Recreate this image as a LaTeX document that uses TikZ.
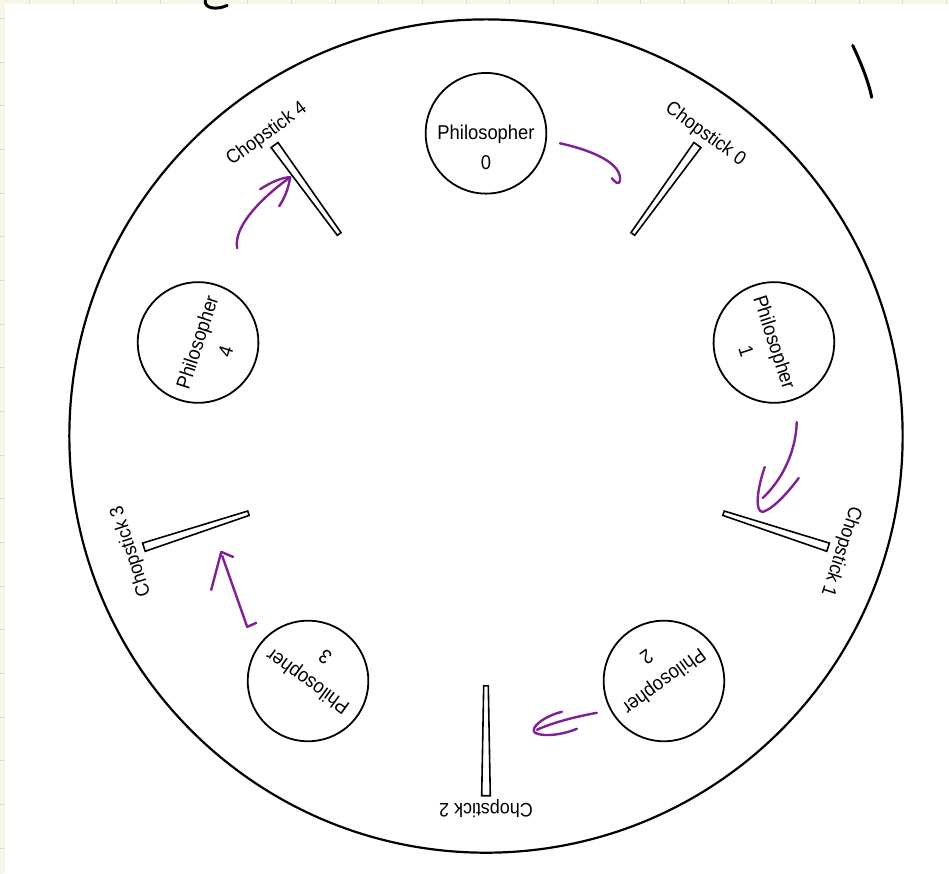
\documentclass[tikz,border=0pt]{standalone}
\usepackage{fontspec}
\setmainfont{Liberation Sans}[FakeStretch=0.92]
\definecolor{paper}{RGB}{247,244,232}
\definecolor{gridline}{RGB}{222,219,203}
\definecolor{pen}{RGB}{128,32,148}
\begin{document}
\begin{tikzpicture}[x=1pt,y=-1pt,
  phil/.style={circle, draw, line width=1.8pt, minimum size=116pt, inner sep=0pt,
    align=center, font=\fontsize{20}{30}\selectfont},
  stickshape/.style={draw, line width=1.6pt, fill=white, line join=miter},
  cslabel/.style={font=\fontsize{19.5}{22}\selectfont, anchor=south, inner sep=0pt},
  hand/.style={draw=pen, line width=2.4pt, line cap=round, line join=round},
  ink/.style={draw=black, line width=3pt, line cap=round},
]
% paper background with faint grid
\fill[paper] (0,0) rectangle (949,873);
\foreach \k in {0,...,21} \draw[gridline, line width=0.8pt] ({29+43.7*\k},0) -- ++(0,873);
\foreach \k in {0,...,19} \draw[gridline, line width=0.8pt] (0,{18+43.7*\k}) -- ++(949,0);
\fill[white] (5,4) rectangle (949,873);
\useasboundingbox (0,0) rectangle (949,873);

% stray ink marks
\coordinate (m1s) at (205,0);
\coordinate (m1e) at (227,5);
\draw[ink] (m1s) .. controls (204,8) and (216,10) .. (m1e);
\coordinate (m2s) at (853,45);
\coordinate (m2e) at (872,97);
\draw[ink] (m2s) .. controls (862,64) and (869,82) .. (m2e);

\begin{scope}[shift={(486,436)}, y=1pt]
  \node[circle, draw, line width=2.2pt, minimum size=834pt, inner sep=0pt] (table) at (0,0) {};
  \foreach \i in {0,...,4}{
    \pgfmathsetmacro\ang{90-72*\i}
    \node[phil, rotate=-72*\i] (p\i) at (\ang:303) {\rule{0pt}{42pt}Philosopher\\\i};
  }
  \foreach \i in {0,...,4}{
    \pgfmathsetmacro\bng{54-72*\i}
    \begin{scope}[rotate=\bng]
      \draw[stickshape] (250,-2.3) -- (360,-4.3) -- (360,4.3) -- (250,2.3) -- cycle;
    \end{scope}
    \node[cslabel, rotate=\bng-90] (c\i) at (\bng:364) {Chopstick \i};
  }
\end{scope}

% hand-drawn purple arrows
\coordinate (a0s) at (560,143);
\coordinate (a0e) at (620,181);
\draw[hand] (a0s) .. controls (592,150) and (623,163) .. (a0e) .. controls (619,185) and (615,182) .. (612,178);

\coordinate (a1s) at (797,422);
\coordinate (a1e) at (763,498);
\draw[hand] (a1s) .. controls (796,455) and (780,482) .. (a1e);
\draw[hand] (765,467) .. controls (757,490) and (755,512) .. (763,512) .. controls (775,508) and (790,490) .. (799,478);

\coordinate (a2s) at (597,713);
\coordinate (a2e) at (537,730);
\draw[hand] (a2s) .. controls (575,717) and (552,723) .. (a2e);
\draw[hand] (562,712) .. controls (545,716) and (529,728) .. (535,733) .. controls (545,738) and (565,734) .. (577,729);

\coordinate (a3s) at (256,623);
\coordinate (a3e) at (222,556);
\draw[hand] (a3s) -- (247,627) -- (a3e);
\draw[hand] (211,590) -- (221,552) -- (233,557);

\coordinate (a4s) at (237,248);
\coordinate (a4e) at (290,177);
\draw[hand] (a4s) .. controls (233,228) and (258,200) .. (a4e);
\draw[hand] (260,189) .. controls (272,181) and (283,177) .. (a4e) .. controls (288,190) and (284,198) .. (279,206);
\end{tikzpicture}
\end{document}
